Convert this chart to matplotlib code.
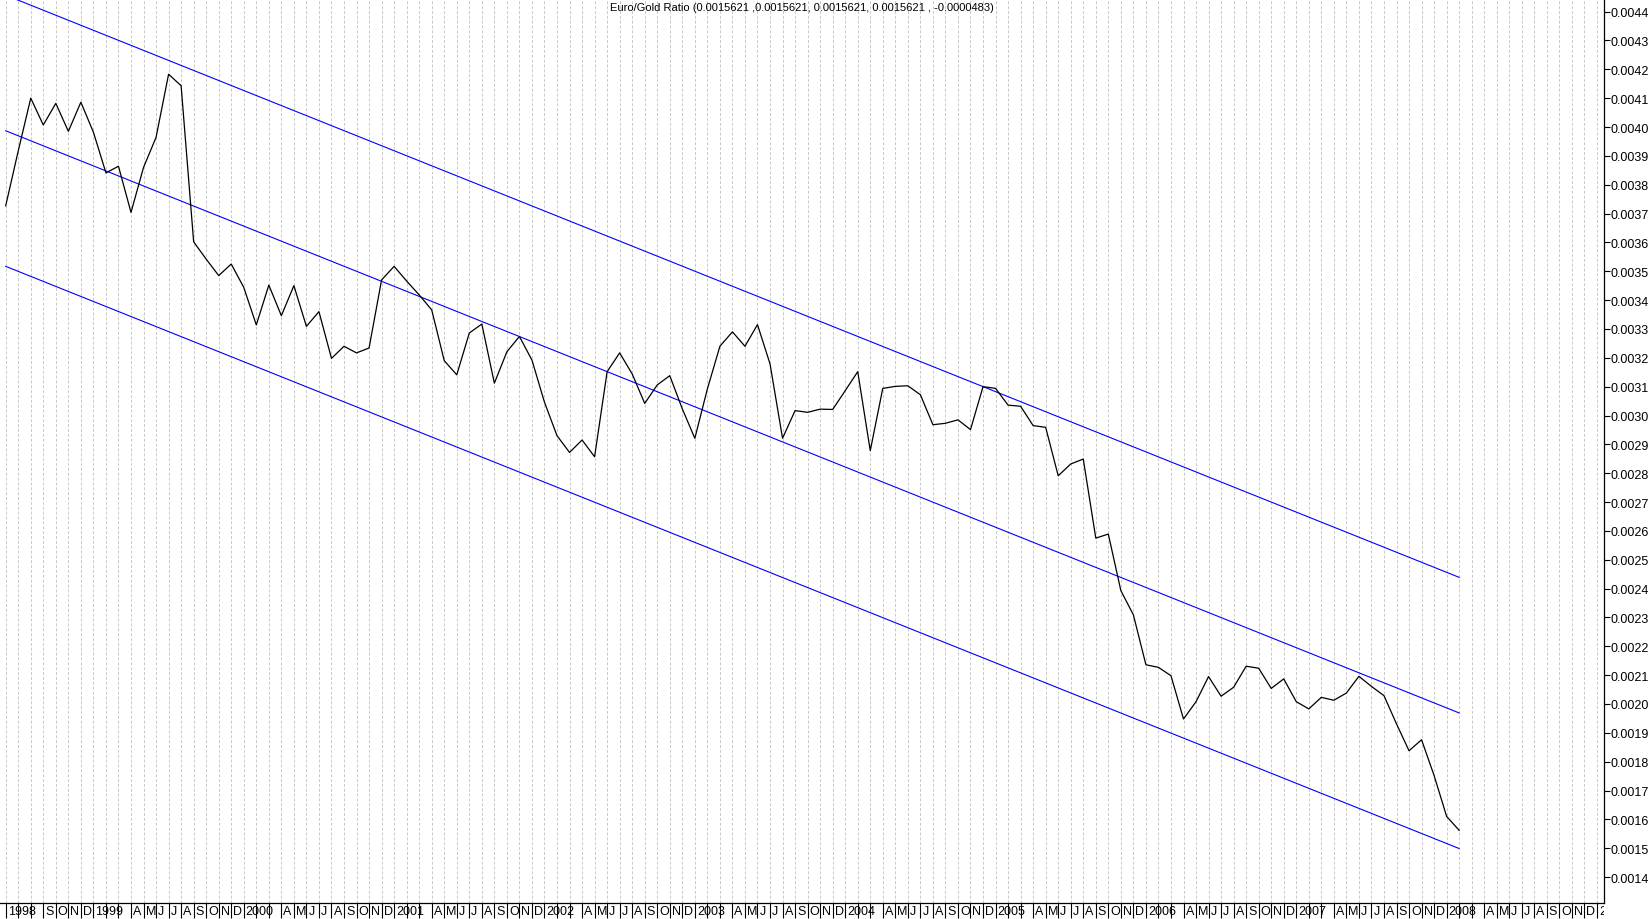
import numpy as np
import matplotlib
matplotlib.use("Agg")
import matplotlib.pyplot as plt
from matplotlib.transforms import Bbox, TransformedBbox

# monthly Euro/Gold ratio, Jun 1998 .. Feb 2008
ratio = [
    0.003727, 0.003917, 0.004100, 0.004007, 0.004082, 0.003985, 0.004086, 0.003982,
    0.003841, 0.003864, 0.003704, 0.003860, 0.003964, 0.004183, 0.004143, 0.003602,
    0.003542, 0.003485, 0.003525, 0.003444, 0.003314, 0.003452, 0.003346, 0.003450,
    0.003309, 0.003360, 0.003198, 0.003240, 0.003217, 0.003234, 0.003470, 0.003517,
    0.003466, 0.003418, 0.003366, 0.003190, 0.003141, 0.003286, 0.003317, 0.003112,
    0.003221, 0.003274, 0.003192, 0.003046, 0.002930, 0.002872, 0.002915, 0.002857,
    0.003152, 0.003217, 0.003144, 0.003042, 0.003106, 0.003138, 0.003023, 0.002921,
    0.003092, 0.003240, 0.003290, 0.003240, 0.003315, 0.003179, 0.002921, 0.003017,
    0.003011, 0.003022, 0.003021, 0.003086, 0.003152, 0.002878, 0.003094, 0.003101,
    0.003103, 0.003072, 0.002968, 0.002973, 0.002985, 0.002951, 0.003100, 0.003094,
    0.003036, 0.003032, 0.002965, 0.002959, 0.002791, 0.002832, 0.002849, 0.002575,
    0.002589, 0.002393, 0.002309, 0.002136, 0.002127, 0.002098, 0.001948, 0.002008,
    0.002095, 0.002027, 0.002058, 0.002131, 0.002124, 0.002054, 0.002087, 0.002008,
    0.001983, 0.002023, 0.002013, 0.002038, 0.002096, 0.002061, 0.002029, 0.001931,
    0.001838, 0.001876, 0.001752, 0.0016104, 0.0015621,
]
first_year, first_month = 1998, 6
axis_months = 128          # x axis runs on to Jan 2009
channel_mid = [0.003987, 0.001969]   # middle line at first / last point
channel_half = 0.00047
title = "Euro/Gold Ratio (0.0015621 ,0.0015621, 0.0015621, 0.0015621 , -0.0000483)"
month_letters = "JFMAMJJASOND"

plt.rcParams['font.family'] = ['Liberation Sans', 'DejaVu Sans']

W, H = 1650, 920
fig = plt.figure(figsize=(W / 100, H / 100), dpi=100)
ax = fig.add_axes([0, (H - 904) / H, 1604 / W, 904 / H])

x = np.arange(len(ratio))
ax.plot(x, ratio, color='black', lw=0.9, zorder=3)

# regression channel
xe = [0, len(ratio) - 1]
mid = np.array(channel_mid)
for off in (channel_half, 0, -channel_half):
    ax.plot(xe, mid + off, color='#0000ff', lw=0.8, zorder=2)

ax.set_xlim(-0.455, 127.56)
ax.set_ylim(0.0013102, 0.0044437)

# vertical monthly grid
for k in range(axis_months):
    ax.axvline(k, color='#c8c8c8', lw=0.7, ls=(0, (3, 2)), zorder=1)

# y axis on the right
yt = np.round(np.arange(0.0014, 0.00445, 0.0001), 4)
ax.yaxis.tick_right()
ax.set_yticks(yt)
ax.set_yticklabels(["%.4f" % v for v in yt], fontsize=9)
ax.tick_params(axis='y', length=4, width=0.8, pad=1, colors='black')

# x axis: tick each month, label to the right of the tick
ax.set_xticks(range(axis_months))
ax.set_xticklabels([])
ax.tick_params(axis='x', length=11, width=0.8, colors='black')

clip = TransformedBbox(Bbox([[0, 0], [1604 / W, 1]]), fig.transFigure)
skip = 0
for k in range(axis_months):
    m = (first_month - 1 + k) % 12
    yr = first_year + (first_month - 1 + k) // 12
    if k == 0 or m == 0:
        lab = str(yr)
        skip = 2
    elif skip > 0:
        skip -= 1
        continue
    else:
        lab = month_letters[m]
    t = ax.annotate(lab, xy=(k, 0), xycoords=('data', 'axes fraction'),
                    xytext=(2, -2), textcoords='offset pixels',
                    ha='left', va='top', fontsize=9, annotation_clip=False)
    t.set_clip_on(True)
    t.set_clip_box(clip)

for s in ('top', 'left'):
    ax.spines[s].set_visible(False)
for s in ('right', 'bottom'):
    ax.spines[s].set_linewidth(0.9)

fig.text(802 / W, 1 - 3 / H, title, ha='center', va='top', fontsize=8)

fig.savefig("out.png", dpi=100)
